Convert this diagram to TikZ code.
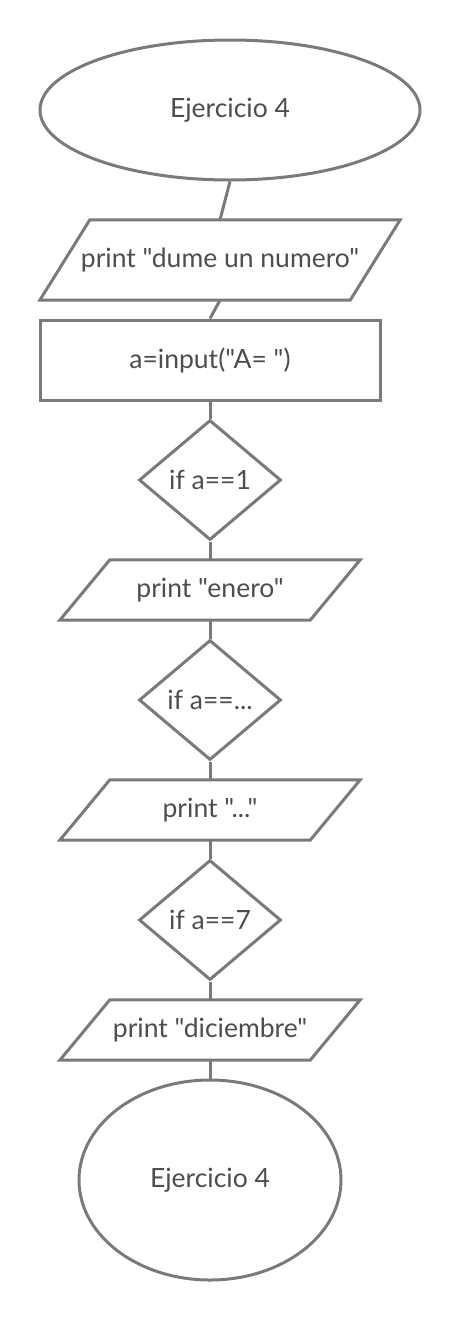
\documentclass[tikz,border=0pt]{standalone}
\usepackage{fontspec}
\setmainfont{Lato}[Ligatures=TeXOff]
\usetikzlibrary{shapes.geometric,calc}
\definecolor{lc}{RGB}{122,122,122}
\definecolor{tc}{RGB}{77,77,77}
\newcommand{\dq}{\symbol{34}}
\tikzset{
  line/.style={draw=lc,line width=3pt,line join=miter},
  txt/.style={text=tc,font=\fontsize{26.5}{30}\selectfont},
  oval/.style={ellipse,line,txt,inner sep=0pt},
  rectbox/.style={rectangle,line,txt,inner sep=0pt,minimum width=340pt,minimum height=80pt},
  pbox/.style={rectangle,txt,inner sep=0pt},
  dbox/.style={diamond,line,txt,inner sep=0pt,minimum width=142pt,minimum height=120pt,aspect=1.18},
}
\newcommand{\para}[2]{%
  \draw[line] ($(#1.south west)+(-#2,0)$) -- ($(#1.south east)+(-#2,0)$) -- ($(#1.north east)+(#2,0)$) -- ($(#1.north west)+(#2,0)$) -- cycle;}
\begin{document}
\begin{tikzpicture}[x=1pt,y=-1pt]
\useasboundingbox (0,0) rectangle (461,1320);
\node[oval,minimum width=380pt,minimum height=140pt] (e1) at (230,110) {Ejercicio 4};
\node[pbox,minimum width=310pt,minimum height=80pt] (p1) at (220,260) {print \dq dume un numero\dq};
\para{p1}{25}
\node[rectbox] (r1) at (210,360) {a=input(\dq A= \dq)};
\node[dbox] (d1) at (210,480) {if a==1};
\node[pbox,minimum width=250pt,minimum height=60pt] (p2) at (210,590) {print \dq enero\dq};
\para{p2}{25}
\node[dbox] (d2) at (210,700) {if a==...};
\node[pbox,minimum width=250pt,minimum height=60pt] (p3) at (210,810) {print \dq ...\dq};
\para{p3}{25}
\node[dbox] (d3) at (210,920) {if a==7};
\node[pbox,minimum width=250pt,minimum height=60pt] (p4) at (210,1030) {print \dq diciembre\dq};
\para{p4}{25}
\node[oval,minimum width=262pt,minimum height=200pt] (e2) at (210,1180) {Ejercicio 4};
\draw[line] (e1.south) -- (p1.north);
\draw[line] (p1.south) -- (r1.north);
\draw[line] (r1.south) -- (d1.north);
\draw[line] (d1.south) -- (p2.north);
\draw[line] (p2.south) -- (d2.north);
\draw[line] (d2.south) -- (p3.north);
\draw[line] (p3.south) -- (d3.north);
\draw[line] (d3.south) -- (p4.north);
\draw[line] (p4.south) -- (e2.north);
\end{tikzpicture}
\end{document}
